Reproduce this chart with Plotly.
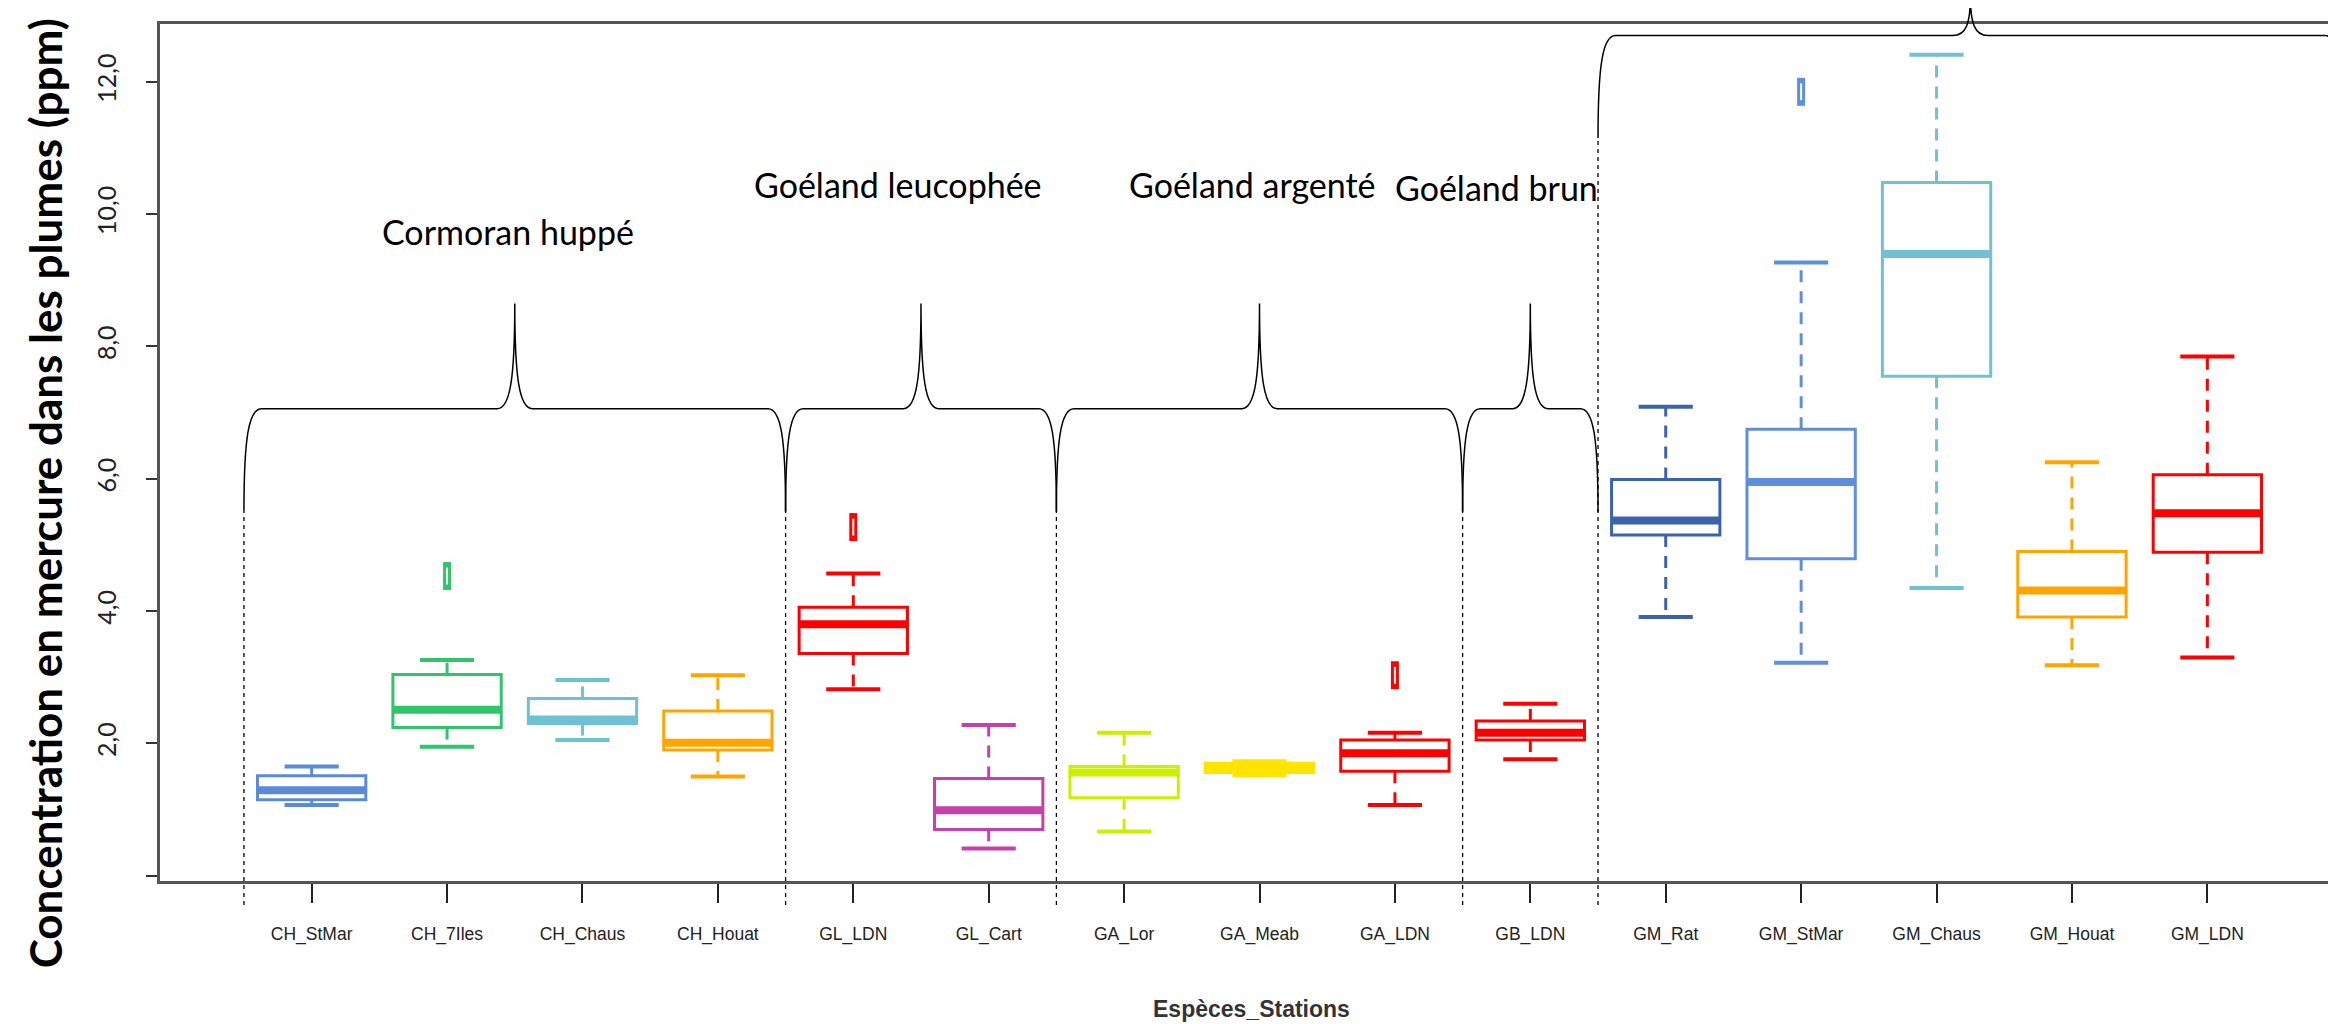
import plotly.graph_objects as go

# Mercury concentration in feathers (ppm), boxplot summaries per species/station
stations = ["CH_StMar", "CH_7Iles", "CH_Chaus", "CH_Houat", "GL_LDN", "GL_Cart",
            "GA_Lor", "GA_Meab", "GA_LDN", "GB_LDN", "GM_Rat", "GM_StMar",
            "GM_Chaus", "GM_Houat", "GM_LDN"]
whisker_low = [1.07, 1.95, 2.05, 1.50, 2.82, 0.41, 0.67, 1.52, 1.07, 1.76, 3.91, 3.22, 4.35, 3.18, 3.30]
q1 = [1.15, 2.24, 2.30, 1.90, 3.36, 0.70, 1.18, 1.56, 1.58, 2.05, 5.15, 4.79, 7.55, 3.91, 4.89]
median = [1.29, 2.51, 2.36, 2.01, 3.80, 0.99, 1.56, 1.63, 1.85, 2.16, 5.37, 5.95, 9.40, 4.31, 5.48]
q3 = [1.51, 3.04, 2.68, 2.49, 4.06, 1.47, 1.65, 1.70, 2.05, 2.34, 5.99, 6.75, 10.48, 4.90, 6.06]
whisker_high = [1.65, 3.26, 2.96, 3.03, 4.57, 2.28, 2.16, 1.73, 2.16, 2.60, 7.09, 9.27, 12.41, 6.25, 7.85]

outlier_station = ["CH_7Iles", "GL_LDN", "GA_LDN", "GM_StMar"]
outlier_value = [4.53, 5.27, 3.03, 11.85]

colors = ["#5B8AD6", "#30C46C", "#6EC1D3", "#FFA500", "#FF0000", "#C73FAA",
          "#CCEE00", "#FFE400", "#FF0000", "#FF0000", "#3A63A9", "#5F8FDB",
          "#70C1D4", "#FFA500", "#FF0000"]

species = ["Cormoran huppé", "Goéland leucophée", "Goéland argenté", "Goéland brun"]

Y_RANGE = [-0.08, 12.875]
X_RANGE = [-1.12, 14.95]
BOX_W = 0.8


def ypaper(v):
    return (v - Y_RANGE[0]) / (Y_RANGE[1] - Y_RANGE[0])


def brace_path(x0, x1, ylo, yflat, ypeak, dx=0.13):
    xc = (x0 + x1) / 2
    a, f, p = ypaper(ylo), ypaper(yflat), ypaper(ypeak)
    ea = a + 0.7 * (f - a)      # end curves bend near the flat part
    cp = f + 0.3 * (p - f)      # centre cusp flares out near the flat part
    return (f"M {x0},{a} C {x0},{ea} {x0 + dx * 0.25},{f} {x0 + dx},{f} "
            f"L {xc - dx},{f} C {xc - dx * 0.25},{f} {xc},{cp} {xc},{p} "
            f"C {xc},{cp} {xc + dx * 0.25},{f} {xc + dx},{f} "
            f"L {x1 - dx},{f} C {x1 - dx * 0.25},{f} {x1},{ea} {x1},{a}")


fig = go.Figure()

for i, name in enumerate(stations):
    c = colors[i]
    # box only (whiskers drawn separately so they can be dashed)
    fig.add_trace(go.Box(
        x=[i], q1=[q1[i]], median=[median[i]], q3=[q3[i]],
        lowerfence=[q1[i]], upperfence=[q3[i]],
        width=BOX_W, whiskerwidth=0,
        line=dict(color=c, width=3), fillcolor="rgba(0,0,0,0)",
        boxpoints=False, hoverinfo="skip", name=name
    ))
    # dashed whiskers
    fig.add_trace(go.Scatter(
        x=[i, i, None, i, i], y=[q3[i], whisker_high[i], None, q1[i], whisker_low[i]],
        mode="lines", line=dict(color=c, width=3, dash="12px,9px"), hoverinfo="skip"
    ))
    # staples
    fig.add_trace(go.Scatter(
        x=[i - BOX_W / 4, i + BOX_W / 4, None, i - BOX_W / 4, i + BOX_W / 4],
        y=[whisker_high[i], whisker_high[i], None, whisker_low[i], whisker_low[i]],
        mode="lines", line=dict(color=c, width=4), hoverinfo="skip"
    ))
    # thick median
    fig.add_trace(go.Scatter(
        x=[i - BOX_W / 2, i + BOX_W / 2], y=[median[i], median[i]],
        mode="lines", line=dict(color=c, width=8), hoverinfo="skip"
    ))

# outliers
ox = [stations.index(s) for s in outlier_station]
oc = [colors[stations.index(s)] for s in outlier_station]
fig.add_trace(go.Scatter(
    x=ox, y=outlier_value, mode="markers", hoverinfo="skip",
    marker=dict(symbol="line-ns", size=20, line=dict(color=oc, width=8))
))
fig.add_trace(go.Scatter(
    x=ox, y=outlier_value, mode="markers", hoverinfo="skip",
    marker=dict(symbol="line-ns", size=12, line=dict(color="white", width=2))
))

# species braces and separators
shapes = []
groups = [(-0.5, 3.5), (3.5, 5.5), (5.5, 8.5), (8.5, 9.5)]
for g0, g1 in groups:
    shapes.append(dict(type="path", xref="x", yref="paper",
                       path=brace_path(g0, g1, 5.5, 7.06, 8.65),
                       line=dict(color="black", width=1.5)))
shapes.append(dict(type="path", xref="x", yref="paper",
                   path=brace_path(9.5, 15.0, 11.15, 12.70, 13.3),
                   line=dict(color="black", width=1.5)))
for b, top in [(-0.5, 5.5), (3.5, 5.5), (5.5, 5.5), (8.5, 5.5), (9.5, 11.15)]:
    shapes.append(dict(type="line", xref="x", yref="paper", x0=b, x1=b,
                       y0=-0.028, y1=ypaper(top),
                       line=dict(color="black", width=1.3, dash="4px,4px")))

annotations = [
    dict(text="<b>Concentration en mercure dans les plumes (ppm)</b>", textangle=-90,
         xref="paper", yref="paper", x=-0.053, y=0.452, xanchor="center", yanchor="middle",
         showarrow=False, font=dict(family="Lato", size=44, color="black")),
    dict(text="<b>Espèces_Stations</b>", xref="x", yref="paper", x=6.94, y=-0.149,
         xanchor="center", yanchor="middle", showarrow=False,
         font=dict(family="Liberation Sans", size=23, color="#333")),
]
label_pos = [(1.45, 9.74), (4.33, 10.45), (6.95, 10.45), (8.75, 10.40)]
for txt, (lx, ly) in zip(species, label_pos):
    annotations.append(dict(text=txt, xref="x", yref="y", x=lx, y=ly,
                            xanchor="center", yanchor="middle", showarrow=False,
                            font=dict(family="Lato", size=34, color="black")))

# page body has an 8px margin: keep the figure inside the 2336x1024 window
fig.update_layout(
    width=2328, height=1016,
    margin=dict(l=152, r=0, t=16, b=143),
    plot_bgcolor="white", paper_bgcolor="white",
    showlegend=False, boxmode="overlay",
    shapes=shapes, annotations=annotations,
    xaxis=dict(
        range=X_RANGE, tickvals=list(range(len(stations))), ticktext=stations,
        ticks="outside", ticklen=19, tickwidth=2, tickcolor="#222",
        showline=True, linecolor="#555", linewidth=3, mirror=True,
        showgrid=False, zeroline=False, ticklabelstandoff=16,
        tickfont=dict(family="Liberation Sans", size=17.5, color="#222")
    ),
    yaxis=dict(
        range=Y_RANGE, tickvals=[0, 2, 4, 6, 8, 10, 12],
        ticktext=["", "2,0", "4,0", "6,0", "8,0", "10,0", "12,0"],
        ticks="outside", ticklen=11, tickwidth=2, tickcolor="#333",
        showline=True, linecolor="#555", linewidth=3,
        showgrid=False, zeroline=False, tickangle=-90, ticklabelstandoff=20,
        tickfont=dict(family="Lato", size=25, color="#222")
    ),
)

fig.write_html("out.html")
